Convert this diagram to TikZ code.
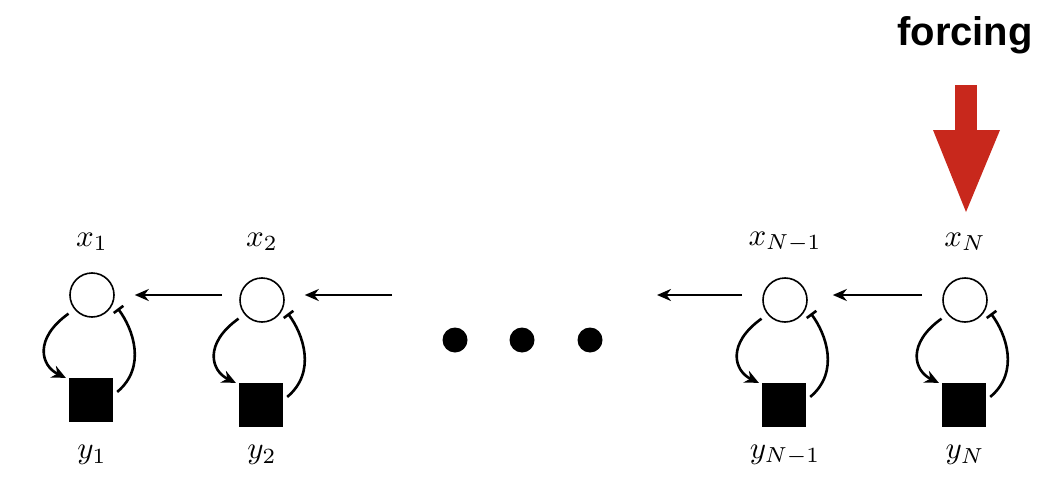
\documentclass[tikz,border=0pt]{standalone}
\usepackage{fontspec}
\newfontfamily\headfont{Liberation Sans}
\usetikzlibrary{arrows.meta}
\begin{document}
\begin{tikzpicture}[x=1pt,y=-1pt,
  st/.style={circle,draw,line width=1.6pt,minimum size=44pt,inner sep=0pt,fill=white},
  obs/.style={rectangle,fill=black,minimum size=44pt,inner sep=0pt},
  lab/.style={inner sep=0pt},
  cpl/.style={-{Stealth[length=14pt,width=12pt]},line width=2.6pt},
  lp/.style={line width=2.6pt},
  dot/.style={circle,fill=black,minimum size=25pt,inner sep=0pt}]
\useasboundingbox (0,0) rectangle (1064,500);
\definecolor{forc}{RGB}{200,40,28}
\foreach \n/\x/\yo/\xl/\yl in {a/92/0/{x_1}/{y_1},b/262/5/{x_2}/{y_2},c/785/5/{x_{N-1}}/{y_{N-1}},d/965/5/{x_N}/{y_N}}{
  \node[st] (\n x) at (\x,295+\yo) {};
  \node[obs] (\n y) at (\x-1,400+\yo) {};
  \node[lab] (\n xl) at (\x,242) {\scalebox{3.1}{$\xl$}};
  \node[lab] (\n yl) at (\x,455) {\scalebox{3.1}{$\yl$}};
  \draw[lp,-{Stealth[length=14pt,width=13pt]}] ([shift={(-6,4)}]\n x.220) .. controls +(-35,25) and +(-25,-12) .. ([xshift=-3pt]\n y.north west);
  \draw[lp,-{Bar[width=12pt]}] ([xshift=4pt]\n y.20) .. controls +(30,-25) and +(15,20) .. ([shift={(6,2)}]\n x.-30);
}
\coordinate (s1) at (222,295); \coordinate (s2) at (392,295);
\coordinate (e3) at (657,295);
\draw[cpl] (s1) -- ([xshift=20pt]ax.east);
\draw[cpl] (s2) -- ([xshift=20pt]bx.east |- s2);
\draw[cpl] ([xshift=-20pt]cx.west |- e3) -- (e3);
\draw[cpl] ([xshift=-20pt]dx.west |- s1) -- ([xshift=25pt]cx.east |- s1);
\node[dot] (d1) at (455,340) {};
\node[dot] (d2) at (522,340) {};
\node[dot] (d3) at (590,340) {};
\node[font=\headfont\bfseries\fontsize{40}{46}\selectfont] (forc) at (965,35) {forcing};
\fill[forc] (955,85) rectangle (977,132);
\fill[forc] (933,130) -- (1000,130) -- (966,212) -- cycle;
\end{tikzpicture}
\end{document}
